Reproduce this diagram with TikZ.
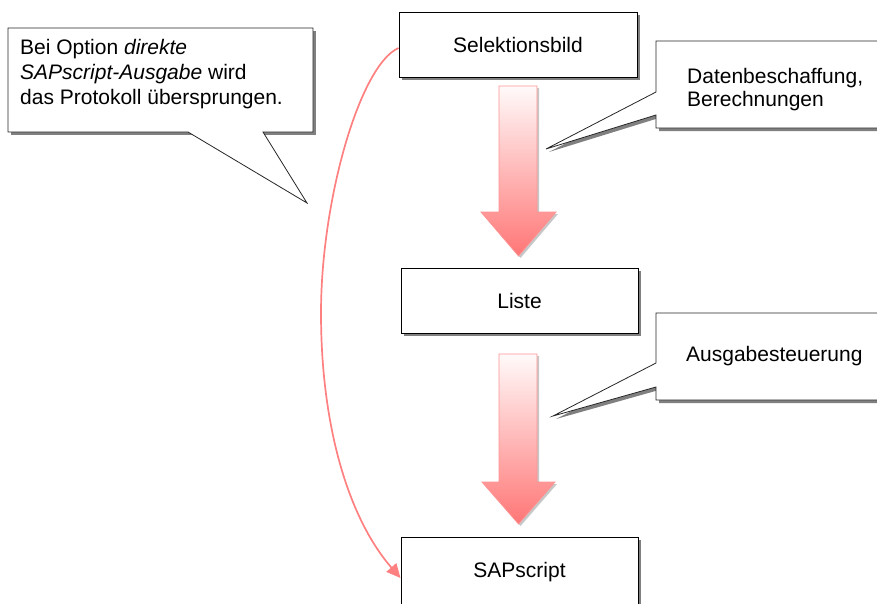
\documentclass[tikz,border=0pt]{standalone}
\usepackage{fontspec}
\setmainfont{Liberation Sans}
\usetikzlibrary{shadows,arrows.meta}
\definecolor{pinkline}{RGB}{255,128,128}
\definecolor{arrowtop}{RGB}{255,250,250}
\definecolor{arrowbot}{RGB}{255,118,118}
\definecolor{shadowgray}{RGB}{128,128,128}
\begin{document}
\begin{tikzpicture}[x=1pt,y=-1pt,
  font=\fontsize{21}{25}\selectfont,
  box/.style={draw=black, line width=1pt, fill=white, minimum width=238pt, minimum height=65pt, inner sep=0pt,
    drop shadow={shadow xshift=3pt, shadow yshift=-3pt, fill=shadowgray, opacity=1}},
  calloutline/.style={draw=black!85, line width=0.8pt, fill=white},
  calloutshadow/.style={fill=shadowgray},
  bigarrow/.style={top color=arrowtop, bottom color=arrowbot, draw=pinkline!85!white, line width=0.8pt},
  arrowshadow/.style={fill=black!22},
  jump/.style={draw=pinkline, line width=1.7pt, -{Triangle[length=14pt,width=13pt]}},
  calltext/.style={align=left, inner sep=0pt, anchor=west}]

\path[use as bounding box] (0,0) rectangle (877,603);
\clip (0,0) rectangle (877,603);

% callout A
\fill[calloutshadow] (11,31) rectangle (316,135);
\path[calloutline] (8,28) -- (313,28) -- (313,132) -- (263,132) -- (307,203) -- (188,132) -- (8,132) -- cycle;
\node[calltext] (noteA) at (20,74.5) {Bei Option \textit{direkte}\\\textit{SAPscript-Ausgabe} wird\\das Protokoll übersprungen.};

% callout B
\path[calloutshadow, shift={(3,3)}] (656,41) -- (900,41) -- (900,128) -- (656,128) -- (656,115) -- (546,149) -- (656,92) -- cycle;
\path[calloutline] (656,41) -- (900,41) -- (900,128) -- (656,128) -- (656,115) -- (546,149) -- (656,92) -- cycle;
\node[calltext, font=\fontsize{21}{23}\selectfont] (noteB) at (687,90) {Datenbeschaffung,\\Berechnungen};

% callout C
\path[calloutshadow, shift={(3,3)}] (656,313) -- (900,313) -- (900,400) -- (656,400) -- (656,387) -- (553,416) -- (656,363) -- cycle;
\path[calloutline] (656,313) -- (900,313) -- (900,400) -- (656,400) -- (656,387) -- (553,416) -- (656,363) -- cycle;
\node[calltext] (noteC) at (686,356.5) {Ausgabesteuerung};

% boxes
\node[box] (sel) at (518,44.5) {Selektionsbild};
\node[box, minimum width=237pt] (liste) at (519.5,300.5) {Liste};
\node[box, minimum width=237pt, minimum height=70pt] (sap) at (519.5,572) {SAPscript};

% big arrows
\path[arrowshadow, shift={(2,2)}] (499,86) -- (537,86) -- (537,212) -- (556,212) -- (518.5,256) -- (481,212) -- (499,212) -- cycle;
\path[bigarrow] (499,86) -- (537,86) -- (537,212) -- (556,212) -- (518.5,256) -- (481,212) -- (499,212) -- cycle;
\path[arrowshadow, shift={(2,2)}] (499,354) -- (537,354) -- (537,482) -- (555,482) -- (518.5,524) -- (482,482) -- (499,482) -- cycle;
\path[bigarrow] (499,354) -- (537,354) -- (537,482) -- (555,482) -- (518.5,524) -- (482,482) -- (499,482) -- cycle;

% skip connector
\draw[jump] ([yshift=-3.5pt]sel.west) .. controls (360,65) and (321,200) .. (321,313)
  .. controls (321,430) and (350,520) .. ([yshift=-6pt]sap.west);
\end{tikzpicture}
\end{document}
